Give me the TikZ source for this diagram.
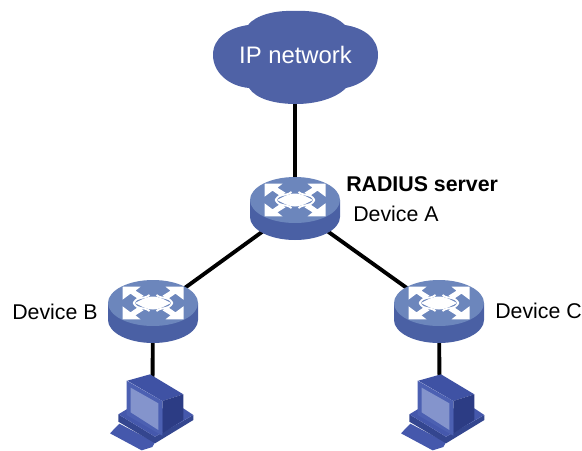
\documentclass[tikz,border=0pt]{standalone}
\usepackage{fontspec}
\setmainfont{Liberation Sans}
\definecolor{cloudblue}{HTML}{4F62A6}
\definecolor{swtop}{HTML}{6C86BC}
\definecolor{swside}{HTML}{4A60A4}
\definecolor{pctop}{HTML}{3F52A4}
\definecolor{pcfront}{HTML}{4C60B2}
\definecolor{pcscreen}{HTML}{8494CC}
\definecolor{pcside}{HTML}{2C3C84}
\definecolor{pcbase}{HTML}{4558AC}
\definecolor{pcbasedark}{HTML}{34468F}
\tikzset{
  link/.style={line width=2.9pt,black},
  lbl/.style={font=\fontsize{16}{18}\selectfont,inner sep=0pt},
  corner/.style={white,line join=round},
  pics/switchicon/.style={code={
    \fill[swside] (-45,0) -- (-45,17) arc[start angle=180,end angle=0,x radius=45,y radius=23] -- (45,0) -- cycle;
    \fill[swtop] (0,0) ellipse[x radius=45,y radius=23];
    \foreach \sx/\sy in {1/1,-1/1,1/-1,-1/-1}{
      \begin{scope}[xscale=\sx,yscale=\sy,shift={(0.5,-1.3)}]
        \fill[corner] (-31,-15) -- (-13,-15) -- (-18,-11) -- (-10,-6) -- (-15,-2.5) -- (-23,-8) -- (-31,-2) -- cycle;
      \end{scope}
      \begin{scope}[xscale=\sx,yscale=\sy,shift={(0.5,0)}]
        \draw[white,line width=1.4pt] (-20,0) .. controls (-15,-8) and (-10,-3) .. (-4,-8);
      \end{scope}
    }
    \fill[white] (-18,0) .. controls (-9,-5) and (-4,-6.5) .. (0,-6.5) .. controls (4,-6.5) and (9,-5) .. (18,0)
      .. controls (9,5) and (4,6.5) .. (0,6.5) .. controls (-4,6.5) and (-9,5) .. (-18,0) -- cycle;
  }},
  pics/pcicon/.style={code={
    \begin{scope}[scale=1/3]
      \fill[pcbase] (30,205) -- (58,176) -- (165,232) -- (157,246) -- (125,256) -- cycle;
      \fill[pcbasedark] (55,148) -- (165,215) -- (280,150) -- (280,165) -- (165,235) -- (55,170) -- cycle;
      \fill[pcbase] (55,148) -- (85,130) -- (250,130) -- (280,150) -- (165,215) -- cycle;
      \fill[pctop] (82,47) -- (150,28) -- (250,88) -- (187,108) -- cycle;
      \fill[pcside] (187,108) -- (250,88) -- (250,165) -- (187,205) -- cycle;
      \fill[pcfront] (80,47) -- (187,108) -- (187,212) -- (80,150) -- cycle;
      \fill[pcscreen] (92,68) -- (175,115) -- (175,195) -- (92,142) -- cycle;
    \end{scope}
  }}
}
\begin{document}
\begin{tikzpicture}[x=0.75pt,y=-0.75pt]
\useasboundingbox (0,0) rectangle (582,450);
\coordinate (devA) at (295,208);
\coordinate (devB) at (153,311);
\coordinate (devC) at (439,311);
\coordinate (pcB) at (152.5,385);
\coordinate (pcC) at (439.5,385);
\coordinate (cloud) at (295,55);
\draw[link] (cloud) -- (devA);
\draw[link] (devA) -- (devB);
\draw[link] (devA) -- (devC);
\draw[link] (devB) -- (pcB);
\draw[link] (devC) -- (pcC);
\fill[cloudblue] (213,55)
  .. controls (213,38) and (228,28) .. (248,25)
  .. controls (256,15) and (275,10) .. (296,11)
  .. controls (315,10) and (335,15) .. (345,25)
  .. controls (364,28) and (378,38) .. (378,55)
  .. controls (378,72) and (364,84) .. (346,88)
  .. controls (335,99) and (315,104) .. (296,104)
  .. controls (275,104) and (256,99) .. (249,88)
  .. controls (228,86) and (213,72) .. (213,55) -- cycle;
\node[inner sep=0pt,text=white,font=\fontsize{17.9}{20}\selectfont] (cloudtxt) at (295.5,55) {IP network};
\pic at (295,200) {switchicon};
\pic at (153,303) {switchicon};
\pic at (439,303) {switchicon};
\pic at (100,365) {pcicon};
\pic at (391,365) {pcicon};
\node[lbl,font=\fontsize{16}{18}\selectfont\bfseries,anchor=west] (radius) at (346,184) {RADIUS server};
\node[lbl,anchor=west] (labA) at (353,214) {Device A};
\node[lbl,anchor=west] (labB) at (12,312) {Device B};
\node[lbl,anchor=west] (labC) at (495,311) {Device C};
\end{tikzpicture}
\end{document}
